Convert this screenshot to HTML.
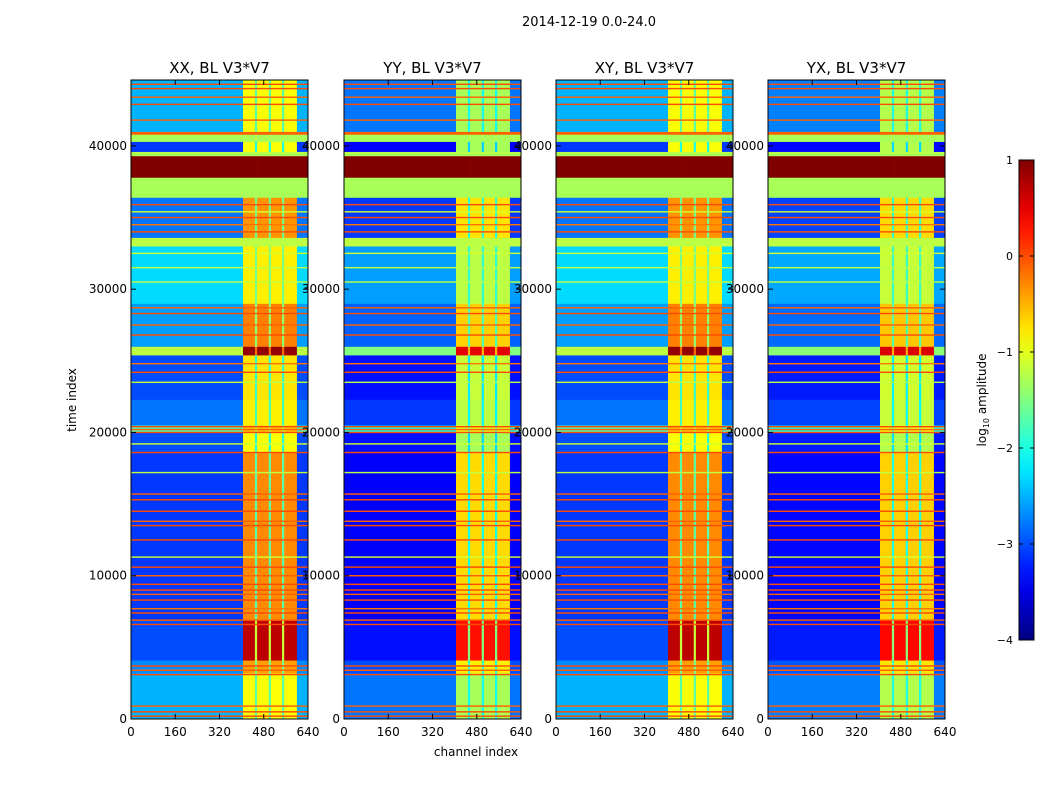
<!DOCTYPE html>
<html><head><meta charset="utf-8">
<style>
html,body{margin:0;padding:0;background:#fff;}
svg{display:block;font-family:"DejaVu Sans","Liberation Sans",sans-serif;}
</style></head>
<body>
<svg id="fig" width="1050" height="800" viewBox="0 0 1050 800" xmlns="http://www.w3.org/2000/svg">
<rect x="0" y="0" width="1050" height="800" fill="#fff"/>
<text x="589" y="26" font-size="13" text-anchor="middle">2014-12-19 0.0-24.0</text>
<text transform="translate(76,400) rotate(-90)" font-size="12" text-anchor="middle">time index</text>
<text x="476" y="756" font-size="12" text-anchor="middle">channel index</text>
<g id="panels"></g>
<g id="cbar"></g>
<text transform="translate(986,400) rotate(-90)" font-size="12" text-anchor="middle">log<tspan font-size="8" dy="3">10</tspan><tspan dy="-3"> amplitude</tspan></text>
</svg>
<script>
// ---- data ----
const panelTitles = ["XX, BL V3*V7","YY, BL V3*V7","XY, BL V3*V7","YX, BL V3*V7"];
const panelLowOffset = [0, -0.3, 0, -0.25];
const panelHighOffset = [0, -0.4, 0, -0.35];
// time bands: start, end, low-channel value, high-channel value (log10 amplitude)
const bandStart = [0, 3200, 4100, 6900, 18600, 20000, 20500, 22300, 25400, 26000, 29000, 33000, 33600, 36400, 37800, 39300, 39600, 40300, 40800, 41000];
const bandEnd   = [3200, 4100, 6900, 18600, 20000, 20500, 22300, 25400, 26000, 29000, 33000, 33600, 36400, 37800, 39300, 39600, 40300, 40800, 41000, 44600];
const bandLow   = [-2.5, -2.7, -3.0, -3.1, -3.0, -1.8, -2.8, -3.0, -1.2, -2.6, -2.3, -1.2, -2.8, -1.3, 1.0, -1.3, -3.1, -1.3, -0.1, -2.5];
const bandHigh  = [-0.9, -0.4, 0.7, -0.3, -0.9, -0.6, -0.8, -0.75, 0.9, -0.25, -0.8, -1.2, -0.35, -1.3, 1.0, -1.3, -0.9, -1.3, -0.1, -0.9];
// thin horizontal lines: time and value
const lineTimes = [200,500,900,3100,3400,3700,6600,6900,7400,7700,8300,8700,9000,9400,10000,10600,11300,12500,13500,13800,14500,15300,15700,17200,18600,19200,20000,20200,20400,23500,24200,24800,26800,27500,28300,28700,30500,31500,32500,34000,34500,35000,35400,35900,39500,41800,42900,43400,44000,44300];
const lineVals  = [0,0,-0.1,0,-0.1,0,0,-0.1,0,-0.2,0,-0.1,0,0,-0.1,0,-1.1,0,0,-0.1,0,0,-0.1,-1.2,0,-1.1,0,-0.1,0,-1.2,0,-0.2,0,-0.1,0,-0.1,-1.2,-1.2,-1.1,0,-0.2,0,-1.1,0,-1.2,-0.1,0,-0.1,0,0];
// channel segments: start, end, type (0=low,1=high,2=gap)
const chanStart = [0, 405, 448, 456, 498, 506, 546, 554, 600];
const chanEnd   = [405, 448, 456, 498, 506, 546, 554, 600, 640];
const chanType  = [0, 1, 2, 1, 2, 1, 2, 1, 0];
const xTicks = [0,160,320,480,640];
const yTicks = [0,10000,20000,30000,40000];
const cbTicks = [-4,-3,-2,-1,0,1];

// ---- helpers ----
const NS="http://www.w3.org/2000/svg";
const panelX=[131,344,556,768], PW=177, PT=80, PB=719;
const TMAX=44600, VMIN=-4, VMAX=1;
function yScale(t){return PB-(t/TMAX)*(PB-PT);}
function clip(v){return Math.max(0,Math.min(1,v));}
function jet(v){const f=clip((v-VMIN)/(VMAX-VMIN));
 const r=clip(1.5-Math.abs(4*f-3)),g=clip(1.5-Math.abs(4*f-2)),b=clip(1.5-Math.abs(4*f-1));
 return `rgb(${Math.round(r*255)},${Math.round(g*255)},${Math.round(b*255)})`;}
function mk(tag,attrs,parent){const e=document.createElementNS(NS,tag);for(const k in attrs)e.setAttribute(k,attrs[k]);parent.appendChild(e);return e;}

const root=document.getElementById('panels');
panelTitles.forEach((title,p)=>{
 const x0=panelX[p];
 const xScale=c=>x0+c/640*PW;
 const g=mk('g',{},root);
 
 
 const hm=mk('g',{},g);
 
 
 for(let b=0;b<bandStart.length;b++){
  const y1=yScale(bandEnd[b]), y2=yScale(bandStart[b]);
  for(let c=0;c<chanStart.length;c++){
   const lo=bandLow[b]+panelLowOffset[p], hi=bandHigh[b]+panelHighOffset[p];
   let v = chanType[c]===0?lo:(chanType[c]===1?hi:(lo+hi)/2);
   if(bandLow[b]===bandHigh[b]) v=bandLow[b];
   const r=mk('rect',{x:xScale(chanStart[c]),y:y1,width:xScale(chanEnd[c])-xScale(chanStart[c])+0.3,height:y2-y1+0.3,fill:jet(v)},hm);
   
   
  }
 }
 for(let i=0;i<lineTimes.length;i++){
  const r=mk('rect',{x:x0,y:yScale(lineTimes[i]+50),width:PW,height:yScale(lineTimes[i]-50)-yScale(lineTimes[i]+50),fill:jet(lineVals[i])},hm);
  
  
 }
 const fr=mk('rect',{x:x0,y:PT,width:PW,height:PB-PT,fill:'none',stroke:'#000','stroke-width':1},g);
 
 
 const t=mk('text',{x:x0+PW/2,y:73,'font-size':15,'text-anchor':'middle'},g);
 t.textContent=title;
 
 
 xTicks.forEach(v=>{const x=xScale(v);
  mk('line',{x1:x,x2:x,y1:PB,y2:PB-5,stroke:'#000'},g);
  mk('line',{x1:x,x2:x,y1:PT,y2:PT+5,stroke:'#000'},g);
  const l=mk('text',{x:x,y:736,'font-size':12,'text-anchor':'middle'},g);l.textContent=v;
  
  
 });
 yTicks.forEach(v=>{const y=yScale(v);
  mk('line',{x1:x0,x2:x0+5,y1:y,y2:y,stroke:'#000'},g);
  mk('line',{x1:x0+PW,x2:x0+PW-5,y1:y,y2:y,stroke:'#000'},g);
  const l=mk('text',{x:x0-4,y:y+4,'font-size':12,'text-anchor':'end'},g);l.textContent=v;
  
  
 });
});

// colorbar
const cb=document.getElementById('cbar');
const CX=1019,CW=15,CT=160,CB=640;
const cbY=v=>CB-(v-VMIN)/(VMAX-VMIN)*(CB-CT);
const defs=mk('defs',{},cb);
const grad=mk('linearGradient',{id:'jetg',x1:0,y1:1,x2:0,y2:0},defs);
for(let i=0;i<=20;i++){const v=VMIN+(VMAX-VMIN)*i/20;mk('stop',{offset:(i/20),'stop-color':jet(v)},grad);}
const cr=mk('rect',{x:CX,y:CT,width:CW,height:CB-CT,fill:'url(#jetg)',stroke:'#000','stroke-width':1},cb);


cbTicks.forEach(v=>{const y=cbY(v);
 mk('line',{x1:CX,x2:CX+4,y1:y,y2:y,stroke:'#000'},cb);
 mk('line',{x1:CX+CW,x2:CX+CW-4,y1:y,y2:y,stroke:'#000'},cb);
 const l=mk('text',{x:CX-6,y:y+4,'font-size':11,'text-anchor':'end'},cb);l.textContent=(v<0?'\u2212'+(-v):v);
 
 
});
</script>
</body></html>
